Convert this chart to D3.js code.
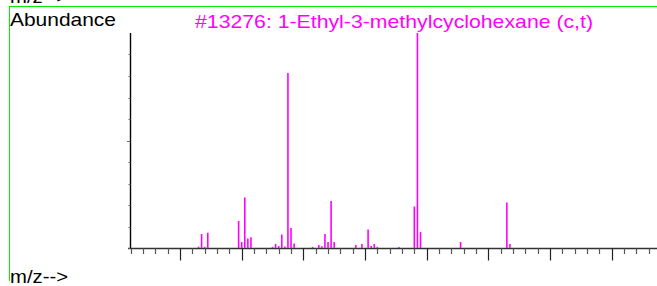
<!DOCTYPE html>
<html>
<head>
<meta charset="utf-8">
<script src="https://cdn.jsdelivr.net/npm/d3@7"></script>
<style>
  body { margin: 0; background: #fff; }
  svg { display: block; }
</style>
</head>
<body>
<div class="spectrum"></div>
<script>
// m/z values and relative abundance (% of base peak 97)
var mz    = [26, 27, 28, 29, 39, 40, 41, 42, 43, 50, 51, 52, 53, 54, 55, 56, 57,
             63, 65, 66, 67, 68, 69, 70, 77, 79, 81, 82, 83, 84, 91, 96, 97, 98,
             111, 126, 127]
var abund = [0.6, 6.5, 0.5, 7.1, 12.6, 2.8, 23.5, 4.4, 5.0, 0.5, 1.9, 0.9, 6.3, 0.7, 81.4, 9.3, 2.1,
             0.5, 1.4, 0.8, 6.5, 2.8, 21.9, 2.8, 1.4, 1.9, 8.6, 0.9, 1.9, 0.5, 0.5, 19.3, 100, 7.4,
             2.8, 21.2, 1.9]
var xTicks = d3.range(4, 173, 4)      // minor every 4, major every 20
var yTicks = d3.range(0, 100, 10)     // major at 50
var title = "#13276: 1-Ethyl-3-methylcyclohexane (c,t)"

var W = 657, H = 286
var svg = d3.select(".spectrum")
    .append("svg")
    .attr("width", W)
    .attr("height", H)

var x = d3.scaleLinear().domain([4, 176]).range([130.7, 661])
var y = d3.scaleLinear().domain([0, 100]).range([248, 33])

// green frame
svg.append("line")
    .attr("x1", 9).attr("y1", 6.5).attr("x2", W).attr("y2", 6.5)
    .style("stroke", "#00ee00").style("stroke-width", 1)
svg.append("line")
    .attr("x1", 9.5).attr("y1", 6).attr("x2", 9.5).attr("y2", 281)
    .style("stroke", "#00ee00").style("stroke-width", 1)

// texts
function label(txt, tx, ty, len, col) {
    svg.append("text")
        .attr("x", tx).attr("y", ty)
        .attr("textLength", len)
        .attr("lengthAdjust", "spacingAndGlyphs")
        .text(txt)
        .style("font-size", "19px")
        .attr("font-family", "'Liberation Sans', Arial, sans-serif")
        .attr("fill", col)
}
label("m/z-->", 10, 2.5, 58, "#000")
label("Abundance", 10, 26, 106, "#000")
label(title, 195, 27.5, 398, "#ff00ff")
label("m/z-->", 10, 283, 58, "#000")

// x axis
svg.append("line")
    .attr("x1", 128).attr("y1", 248.5).attr("x2", W).attr("y2", 248.5)
    .style("stroke", "#333").style("stroke-width", 1.3)

svg.selectAll(".xt")
    .data(xTicks)
    .enter().append("line")
    .attr("x1", d => Math.round(x(d)) + 0.5)
    .attr("x2", d => Math.round(x(d)) + 0.5)
    .attr("y1", 248.5)
    .attr("y2", d => d % 20 == 0 ? 260.5 : 254)
    .style("stroke", d => d % 20 == 0 ? "#222" : "#555")
    .style("stroke-width", 1.2)

// y axis
svg.append("line")
    .attr("x1", 130.5).attr("y1", 33).attr("x2", 130.5).attr("y2", 249)
    .style("stroke", "#000").style("stroke-width", 1.4)

svg.selectAll(".yt")
    .data(yTicks)
    .enter().append("line")
    .attr("x1", d => d == 50 ? 127 : 128.5)
    .attr("x2", 130.5)
    .attr("y1", d => Math.round(y(d)) + 0.5)
    .attr("y2", d => Math.round(y(d)) + 0.5)
    .style("stroke", "#666")
    .style("stroke-width", 1)

// peaks
svg.selectAll(".peak")
    .data(mz)
    .enter().append("line")
    .attr("x1", d => x(d))
    .attr("x2", d => x(d))
    .attr("y1", 248)
    .attr("y2", (d, i) => y(abund[i]))
    .style("stroke", "#ff00ff")
    .style("stroke-width", 1.6)
</script>
</body>
</html>
